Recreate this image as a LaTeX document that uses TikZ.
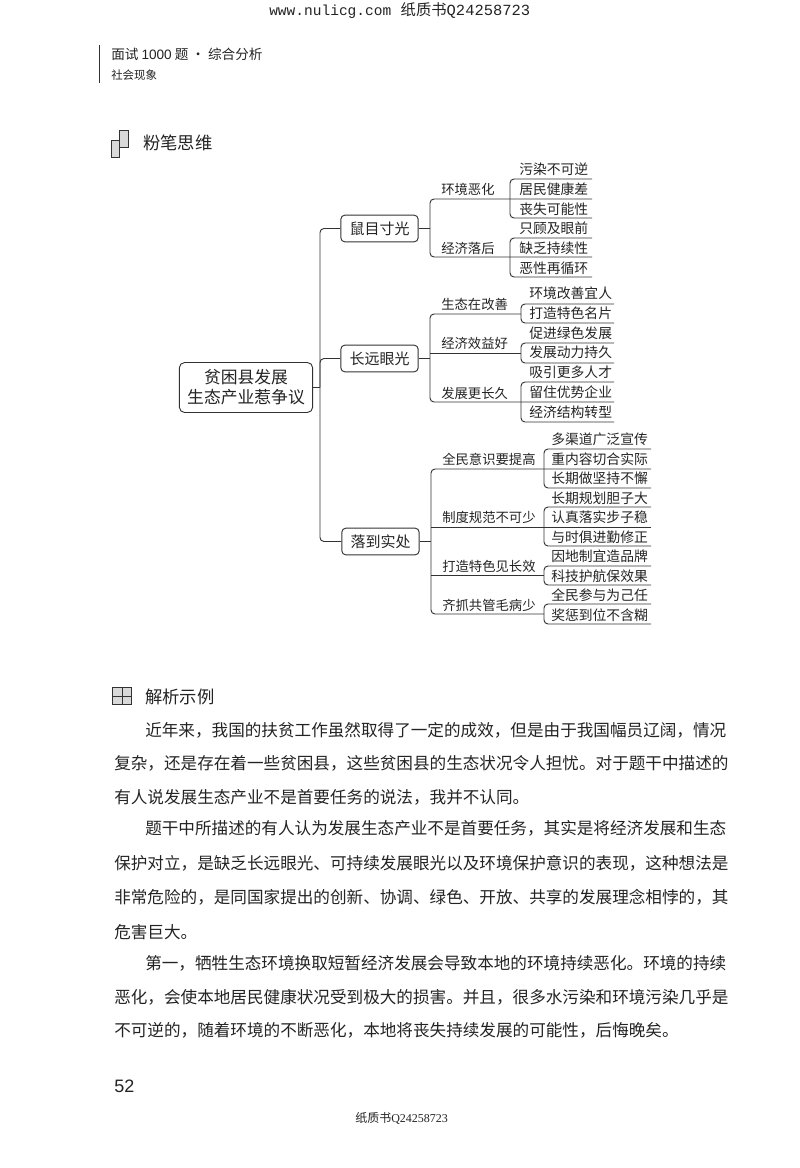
\documentclass[tikz,border=0pt]{standalone}
\usepackage{fontspec}
\usepackage{tikz}
\setmainfont{Noto Sans CJK SC}
\newfontfamily\headmono{Liberation Mono}
\newfontfamily\latinsans{Liberation Sans}
\newfontfamily\latinserif{Liberation Serif}
\definecolor{inkline}{RGB}{50,50,50}
\definecolor{inktext}{RGB}{35,35,35}

\begin{document}
\begin{tikzpicture}[
    x=0.75pt, y=-0.75pt,
    rootbox/.style={draw=inkline, line width=0.7pt, rounded corners=4pt, minimum width=100pt,
                    minimum height=37.5pt, inner sep=0pt, align=center, text=inktext,
                    font=\fontsize{12.6}{15}\selectfont},
    midbox/.style={draw=inkline, line width=0.7pt, rounded corners=3pt, minimum width=58pt,
                   minimum height=20pt, inner sep=0pt, text=inktext,
                   font=\fontsize{11.25}{13}\selectfont},
    branchlbl/.style={anchor=west, inner sep=0pt, text=inktext, font=\fontsize{10}{12}\selectfont},
    leaflbl/.style={anchor=west, inner sep=0pt, text=inktext, font=\fontsize{10.35}{12}\selectfont},
    bodytxt/.style={anchor=west, inner sep=0pt, text=inktext, font=\fontsize{12.45}{15}\selectfont},
    iconbox/.style={draw=inkline, line width=0.7pt, fill=black!15},
    conn/.style={draw=inkline, line width=0.7pt, rounded corners=3pt}
  ]
    \useasboundingbox (0,0) rectangle (800,1168);

    % Page head
    \node[anchor=west, inner sep=0pt, text=inktext] (webline) at (269,11)
      {{\headmono\fontsize{10.9}{12}\selectfont www.nulicg.com}\hspace{7pt}{\fontsize{11.5}{12}\selectfont 纸质书}{\headmono\fontsize{11.6}{12}\selectfont Q24258723}};
    \draw[inkline, line width=0.7pt] (99,45) -- (99,83);
    \node[anchor=west, inner sep=0pt, text=inktext, font=\fontsize{10.2}{12}\selectfont] (bookname) at (111,54)
      {面试 {\latinsans 1000} 题 · 综合分析};
    \node[anchor=west, inner sep=0pt, text=inktext, font=\fontsize{8.6}{12}\selectfont] (chapter) at (111,75) {社会现象};

    % Section heads
    \draw[iconbox] (111,140) rectangle (119,157);
    \draw[iconbox] (119,130) rectangle (128,147);
    \node[anchor=west, inner sep=0pt, text=inktext, font=\fontsize{13}{15}\selectfont] (mapHead) at (143,143) {粉笔思维};
    \draw[iconbox] (112,687) rectangle (131,704);
    \draw[inkline, line width=0.7pt] (122,687) -- (122,704) (112,696) -- (131,696);
    \node[anchor=west, inner sep=0pt, text=inktext, font=\fontsize{13}{15}\selectfont] (textHead) at (145,697) {解析示例};

    % Root and main boxes
    \node[rootbox] (root) at (246,387.5) {贫困县发展\\生态产业惹争议};
    \node[midbox] (shortsight) at (379.5,228.5) {鼠目寸光};
    \node[midbox] (farsight)   at (379.5,358.5) {长远眼光};
    \node[midbox] (practice)   at (380.5,541.5) {落到实处};

    % Spine
    \coordinate (hub) at (320,387.5);
    \draw[conn] (root.east) -- (hub);
    \foreach \a in {shortsight, farsight, practice}
      \draw[conn] (\a.west) -| (hub);

    % Branch labels
    \foreach \n/\x/\y/\t in {envbad/441/189/环境恶化, econlag/441/248/经济落后,
        ecobetter/441/304/生态在改善, econgood/441/343/经济效益好, longer/441/393/发展更长久,
        aware/442/459/全民意识要提高, rules/442/517/制度规范不可少,
        brand/442/566/打造特色见长效, jointly/442/605/齐抓共管毛病少}
      \node[branchlbl] (\n) at (\x,\y) {\t};

    % Leaf labels
    \foreach \n/\x/\y/\t in {la1/519/169/污染不可逆, la2/519/189/居民健康差, la3/519/209/丧失可能性,
        lb1/519/228/只顾及眼前, lb2/519/248/缺乏持续性, lb3/519/268/恶性再循环,
        lc1/529/293/环境改善宜人, lc2/529/313/打造特色名片,
        ld1/529/333/促进绿色发展, ld2/529/352/发展动力持久,
        le1/529/372/吸引更多人才, le2/529/392/留住优势企业, le3/529/412/经济结构转型,
        lf1/551/439/多渠道广泛宣传, lf2/551/459/重内容切合实际, lf3/551/478/长期做坚持不懈,
        lg1/551/498/长期规划胆子大, lg2/551/517/认真落实步子稳, lg3/551/537/与时俱进勤修正,
        lh1/551/556/因地制宜造品牌, lh2/551/576/科技护航保效果,
        li1/551/595/全民参与为己任, li2/551/615/奖惩到位不含糊}
      \node[leaflbl] (\n) at (\x,\y) {\t};

    % Leaf brackets
    \foreach \n/\xb/\xe/\xm/\yt/\ym/\yb in {envbad/510/592/592/179/199/218, econlag/510/592/592/238/257/277,
        ecobetter/521/614/521/304/314/323, econgood/521/614/521/343/353/363, longer/521/614/614/382/402/422,
        aware/544/651/651/449/469/488, rules/544/651/651/507/527/546,
        brand/544/651/544/566/575/585, jointly/544/651/544/604/614/624} {
      \coordinate (\n-t) at (\xe,\yt);
      \coordinate (\n-b) at (\xe,\yb);
      \coordinate (\n-h) at (\xb,\ym);
      \coordinate (\n-e) at (\xm,\ym);
      \draw[conn] (\n-t) -| (\n-h) |- (\n-b);
    }

    % Group brackets
    \coordinate (shortsight-j) at (430,228.5);
    \coordinate (farsight-j)   at (430,358.5);
    \coordinate (practice-j)   at (431,541.5);
    \foreach \a in {shortsight, farsight, practice}
      \draw[conn] (\a.east) -- (\a-j);
    \draw[conn] (envbad-e) -| (shortsight-j) |- (econlag-e);
    \draw[conn] (ecobetter-e) -| (farsight-j) |- (longer-e);
    \draw[conn] (aware-e) -| (practice-j) |- (jointly-e);
    \coordinate (econgood-j) at (430,353);
    \draw[conn] (econgood-j) -- (econgood-e);
    \coordinate (rules-j) at (431,527);
    \coordinate (brand-j) at (431,575);
    \draw[conn] (rules-j) -- (rules-e);
    \draw[conn] (brand-j) -- (brand-e);

    % Body text
    \node[bodytxt] (p1a) at (145,730) {近年来，我国的扶贫工作虽然取得了一定的成效，但是由于我国幅员辽阔，情况};
    \node[bodytxt] (p1b) at (114,763) {复杂，还是存在着一些贫困县，这些贫困县的生态状况令人担忧。对于题干中描述的};
    \node[bodytxt] (p1c) at (114,797) {有人说发展生态产业不是首要任务的说法，我并不认同。};
    \node[bodytxt] (p2a) at (145,828) {题干中所描述的有人认为发展生态产业不是首要任务，其实是将经济发展和生态};
    \node[bodytxt] (p2b) at (114,863) {保护对立，是缺乏长远眼光、可持续发展眼光以及环境保护意识的表现，这种想法是};
    \node[bodytxt] (p2c) at (114,897) {非常危险的，是同国家提出的创新、协调、绿色、开放、共享的发展理念相悖的，其};
    \node[bodytxt] (p2d) at (114,932) {危害巨大。};
    \node[bodytxt] (p3a) at (145,963) {第一，牺牲生态环境换取短暂经济发展会导致本地的环境持续恶化。环境的持续};
    \node[bodytxt] (p3b) at (114,997) {恶化，会使本地居民健康状况受到极大的损害。并且，很多水污染和环境污染几乎是};
    \node[bodytxt] (p3c) at (114,1030) {不可逆的，随着环境的不断恶化，本地将丧失持续发展的可能性，后悔晚矣。};

    % Page foot
    \node[anchor=west, inner sep=0pt, text=inktext, font=\latinsans\fontsize{13.5}{15}\selectfont] (pageno) at (114,1086) {52};
    \node[anchor=west, inner sep=0pt, text=inktext, font=\fontsize{9}{11}\selectfont] (footline) at (355,1118)
      {纸质书{\latinserif Q24258723}};
  \end{tikzpicture}
\end{document}
